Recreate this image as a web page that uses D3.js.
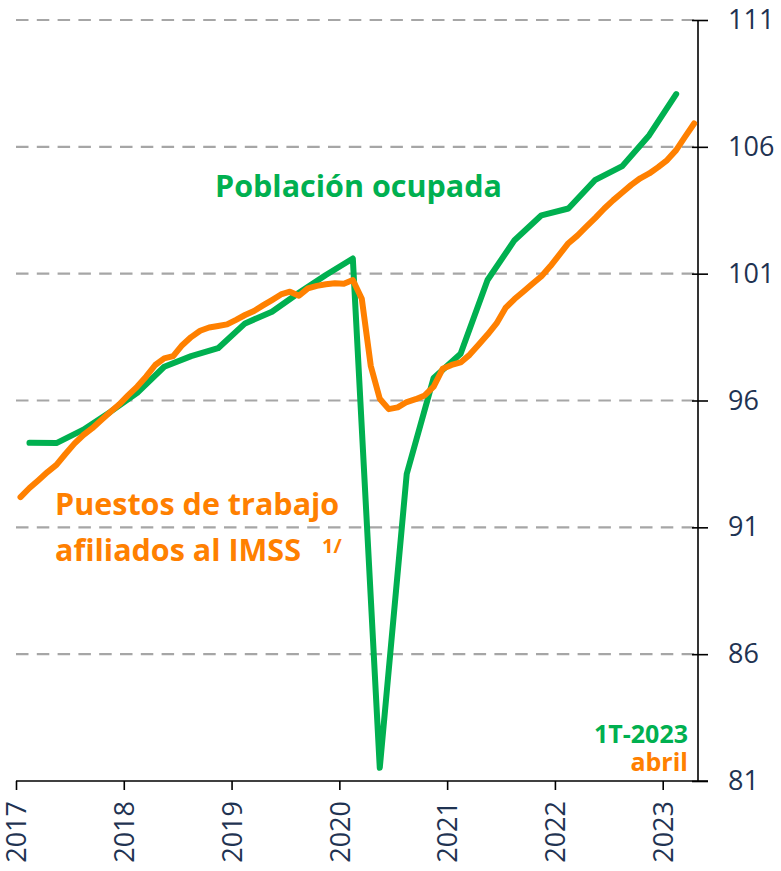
<!DOCTYPE html>
<html>
<head>
<meta charset="utf-8">
<script src="https://cdn.jsdelivr.net/npm/d3@7"></script>
<style>
  html, body { margin: 0; padding: 0; background: #fff; }
  svg { display: block; }
</style>
</head>
<body>
<div id="chart"></div>
<script>
// ticks
const yearTicks = [2017, 2018, 2019, 2020, 2021, 2022, 2023];
const valueTicks = [81, 86, 91, 96, 101, 106, 111];

// Población ocupada, trimestral (1T-2017 .. 1T-2023)
const ocupadaStart = 2017;
const ocupada = [
  94.33, 94.32, 94.85, 95.55,
  96.3, 97.33, 97.75, 98.06,
  99.04, 99.5, 100.25, 100.95,
  101.6, 81.52, 93.1, 96.89,
  97.84, 100.75, 102.32, 103.3,
  103.57, 104.7, 105.24, 106.46,
  108.08
];

// Puestos de trabajo afiliados al IMSS, mensual (ene-2017 .. abr-2023)
const imssStart = 2017;
const imss = [
  92.19, 92.55, 92.86, 93.18, 93.46, 93.89, 94.3, 94.64, 94.91, 95.23, 95.55, 95.85,
  96.21, 96.55, 96.95, 97.4, 97.66, 97.75, 98.18, 98.5, 98.75, 98.88, 98.94, 99.0,
  99.18, 99.37, 99.53, 99.75, 99.96, 100.18, 100.29, 100.13, 100.42, 100.52, 100.58, 100.62,
  100.6, 100.75, 100.01, 97.36, 96.07, 95.66, 95.73, 95.94, 96.05, 96.2, 96.55, 97.25,
  97.4, 97.5, 97.8, 98.2, 98.6, 99.04, 99.65, 100.0, 100.3, 100.6, 100.9, 101.3,
  101.75, 102.2, 102.5, 102.85, 103.2, 103.57, 103.9, 104.2, 104.5, 104.76, 104.95, 105.2,
  105.48, 105.87, 106.4, 106.92
];

const width = 781, height = 871;
const green = "#00b050", orange = "#ff8000", ink = "#1f3352";

const x = d3.scaleLinear().domain([2017, 2023]).range([16, 662.7]);
const y = d3.scaleLinear().domain([81, 111]).range([781, 20]);
const plotRight = 698;

const svg = d3.select("#chart").append("svg")
  .attr("width", width)
  .attr("height", height)
  .attr("font-family", "'Open Sans', sans-serif");

// dashed grid
svg.append("g")
  .selectAll("line")
  .data(valueTicks.filter(v => v > 81))
  .join("line")
  .attr("x1", 16).attr("x2", plotRight)
  .attr("y1", d => y(d)).attr("y2", d => y(d))
  .attr("stroke", "#a6a6a6")
  .attr("stroke-width", 2.2)
  .attr("stroke-dasharray", "12.5,8.3");

// right axis
const yAxis = svg.append("g")
  .attr("transform", `translate(${plotRight},0)`)
  .call(d3.axisRight(y).tickValues(valueTicks).tickSize(10).tickPadding(20).tickFormat(d3.format("d")));
yAxis.select(".domain").attr("d", `M0,${y(111)}V${y(81)}`).attr("stroke", "#000").attr("stroke-width", 1.6);
yAxis.selectAll(".tick line").attr("x1", -6).attr("stroke", "#000").attr("stroke-width", 1.6);
yAxis.selectAll(".tick text")
  .attr("fill", ink)
  .attr("font-size", 27)
  .attr("font-family", "'Open Sans', sans-serif");

// bottom axis
const xAxis = svg.append("g")
  .attr("transform", `translate(0,${y(81)})`)
  .call(d3.axisBottom(x).tickValues(yearTicks).tickSize(9).tickFormat(d3.format("d")));
xAxis.select(".domain").attr("d", `M${x(2017)},0H${plotRight + 10}`).attr("stroke", "#000").attr("stroke-width", 1.6);
xAxis.selectAll(".tick line").attr("stroke", "#000").attr("stroke-width", 1.6);
xAxis.selectAll(".tick text")
  .attr("fill", ink)
  .attr("font-size", 27)
  .attr("font-family", "'Open Sans', sans-serif")
  .attr("text-anchor", "end")
  .attr("transform", "rotate(-90)")
  .attr("x", -20)
  .attr("y", 0)
  .attr("dy", "0.36em");

// series
const line = d3.line()
  .x(d => x(d.t))
  .y(d => y(d.v));

const ocupadaPts = ocupada.map((v, i) => ({ t: ocupadaStart + i * 0.25 + 0.125, v }));
const imssPts = imss.map((v, i) => ({ t: imssStart + (i + 0.5) / 12, v }));

svg.append("path")
  .datum(ocupadaPts)
  .attr("d", line)
  .attr("fill", "none")
  .attr("stroke", green)
  .attr("stroke-width", 6)
  .attr("stroke-linejoin", "round")
  .attr("stroke-linecap", "round");

svg.append("path")
  .datum(imssPts)
  .attr("d", line)
  .attr("fill", "none")
  .attr("stroke", orange)
  .attr("stroke-width", 6)
  .attr("stroke-linejoin", "round")
  .attr("stroke-linecap", "round");

// labels
const lab = svg.append("g").attr("font-weight", "bold").attr("font-family", "'Open Sans', sans-serif");

lab.append("text")
  .attr("x", 215).attr("y", 197)
  .attr("fill", green).attr("font-size", 30.5)
  .text("Población ocupada");

lab.append("text")
  .attr("x", 55).attr("y", 515)
  .attr("fill", orange).attr("font-size", 30.5)
  .text("Puestos de trabajo");

lab.append("text")
  .attr("x", 55).attr("y", 561)
  .attr("fill", orange).attr("font-size", 30.5)
  .text("afiliados al IMSS");

lab.append("text")
  .attr("x", 322).attr("y", 553)
  .attr("fill", orange).attr("font-size", 20)
  .text("1/");

lab.append("text")
  .attr("x", 688).attr("y", 743)
  .attr("text-anchor", "end")
  .attr("fill", green).attr("font-size", 25)
  .text("1T-2023");

lab.append("text")
  .attr("x", 688).attr("y", 771)
  .attr("text-anchor", "end")
  .attr("fill", orange).attr("font-size", 25)
  .text("abril");
</script>
</body>
</html>
